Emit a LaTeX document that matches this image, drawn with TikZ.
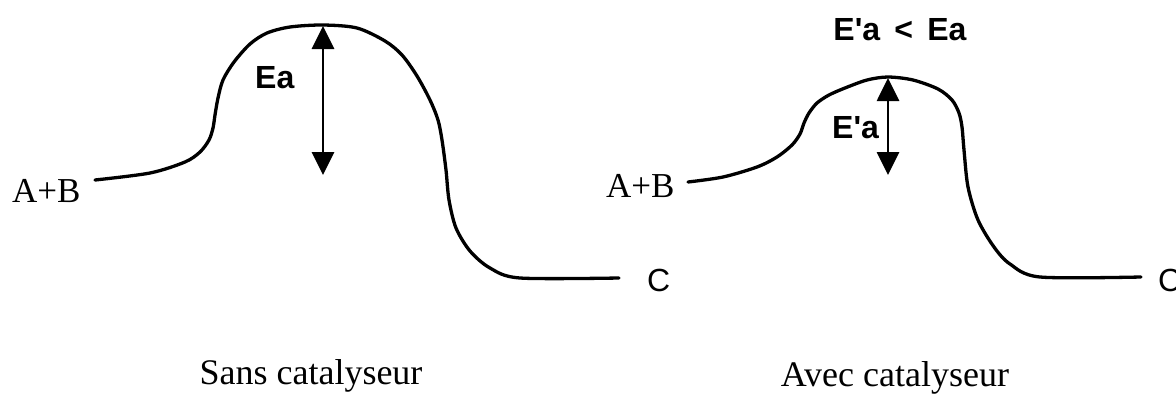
\documentclass[tikz,border=0pt]{standalone}
\usepackage{fontspec}
\setmainfont{Liberation Serif}
\setsansfont{Liberation Sans}
\usetikzlibrary{arrows.meta}
\tikzset{
  curve/.style={line width=3.3pt, line join=round, line cap=round},
  ea arrow/.style={line width=2.8pt, {Triangle[length=23pt,width=22pt]}-{Triangle[length=23pt,width=22pt]}},
  serif label/.style={inner sep=0pt, font=\fontsize{35}{40}\selectfont\rmfamily},
  caption/.style={inner sep=0pt, font=\fontsize{36}{42}\selectfont\rmfamily},
  sans label/.style={inner sep=0pt, font=\fontsize{32}{38}\selectfont\sffamily},
  bold label/.style={inner sep=0pt, font=\fontsize{32}{38}\selectfont\sffamily\bfseries},
}
\begin{document}
\begin{tikzpicture}[x=1pt,y=-1pt]
\useasboundingbox (0,0) rectangle (1176,397);
% left: without catalyst
\draw[curve] plot[smooth, tension=0.5] coordinates {
 (95,180) (150,173) (185,162) (200,152) (209,140) (213,128) (215,115) (218,98)
 (223,80) (234,62) (250,44) (267,33) (290,27) (323,25) (357,28) (385,41) (402,55)
 (417,76) (430,100) (438,120) (442,140) (446,170) (449,200) (456,228) (470,251)
 (490,268) (520,278) (619,278)};
\coordinate (topL) at (323,26);
\coordinate (botL) at (323,175);
\draw[ea arrow] (botL) -- (topL);
\node[serif label, anchor=base west] (abL) at (12,202) {A+B};
\node[bold label, anchor=base west] (eaL) at (255,88) {Ea};
\node[sans label, anchor=base west] (cL) at (647,291) {C};
\node[caption, anchor=base] (capL) at (311,384) {Sans catalyseur};
% right: with catalyst
\draw[curve] plot[smooth, tension=0.5] coordinates {
 (688,182) (723,177) (757,167) (777,157) (792,145) (800,134) (804,123) (809,113)
 (817,103) (829,95) (845,88) (867,80) (888,77) (913,80) (938,89) (952,100)
 (959,113) (962,127) (964,150) (968,187) (978,220) (994,247) (1010,264)
 (1040,277) (1141,277)};
\coordinate (topR) at (888,78);
\coordinate (botR) at (888,175);
\draw[ea arrow] (botR) -- (topR);
\node[serif label, anchor=base west] (abR) at (606,197) {A+B};
\node[bold label, anchor=base west] (eaR) at (832,138) {E\textquotesingle a};
\node[bold label, anchor=base] (cmp) at (900,40) {E\textquotesingle a\, <\, Ea};
\node[sans label, anchor=base west] (cR) at (1158,291) {C};
\node[caption, anchor=base] (capR) at (895,386) {Avec catalyseur};
\end{tikzpicture}
\end{document}
